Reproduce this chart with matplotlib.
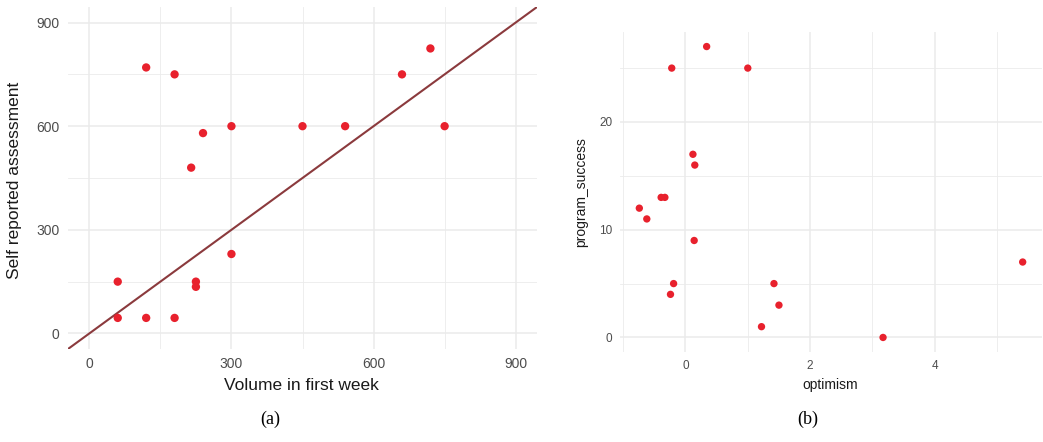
import numpy as np
import matplotlib
matplotlib.use("Agg")
import matplotlib.pyplot as plt

plt.rcParams['font.family'] = ['Liberation Sans', 'DejaVu Sans']

# panel (a): volume vs self reported assessment
volume = [120, 180, 660, 720, 300, 450, 540, 750, 240, 215, 300, 60, 225, 225, 60, 120, 180]
assessment = [770, 750, 750, 825, 600, 600, 600, 600, 580, 480, 230, 150, 150, 135, 45, 45, 45]

# panel (b): optimism vs program_success
optimism = [0.34, -0.22, 1.0, 0.12, 0.15, -0.39, -0.33, -0.74, -0.62, 0.14,
            5.41, -0.19, 1.42, -0.24, 1.50, 1.22, 3.17]
program_success = [27, 25, 25, 17, 16, 13, 13, 12, 11, 9, 7, 5, 5, 4, 3, 1, 0]

a_ticks = [0, 300, 600, 900]
a_minor = [150, 450, 750]
b_xticks = [0, 2, 4]
b_xminor = [-1, 1, 3, 5]
b_yticks = [0, 10, 20]
b_yminor = [5, 15, 25]

point_col = '#E8212D'
line_col = '#8B3A3D'
grid_col = '#EBEBEB'
tick_col = '#4D4D4D'

fig = plt.figure(figsize=(10.43, 4.42), dpi=100)
ax1 = fig.add_axes([68 / 1043, 1 - 349 / 442, 469 / 1043, 342 / 442])
ax2 = fig.add_axes([620 / 1043, 1 - 352 / 442, 422 / 1043, 320 / 442])


def style(ax, xt, xm, yt, ym, fs, pad):
    ax.set_xticks(xt)
    ax.set_xticks(xm, minor=True)
    ax.set_yticks(yt)
    ax.set_yticks(ym, minor=True)
    ax.grid(True, which='major', color=grid_col, lw=1.1)
    ax.grid(True, which='minor', color=grid_col, lw=0.6)
    ax.set_axisbelow(True)
    for s in ax.spines.values():
        s.set_visible(False)
    ax.tick_params(which='both', length=0, labelsize=fs, labelcolor=tick_col, pad=pad)


# (a)
ax1.plot([-45, 945], [-45, 945], color=line_col, lw=1.5, zorder=2)
ax1.scatter(volume, assessment, s=36, color=point_col, edgecolors='none', zorder=3)
ax1.set_xlim(-45, 945)
ax1.set_ylim(-45, 945)
style(ax1, a_ticks, a_minor, a_ticks, a_minor, 10, 6)
ax1.set_xlabel('Volume in first week', fontsize=12.5, color='#1a1a1a', va='center')
ax1.xaxis.set_label_coords(0.498, -0.108)
ax1.set_ylabel('Self reported assessment', fontsize=12.5, color='#1a1a1a', va='center')
ax1.yaxis.set_label_coords(-0.115, 0.494)

# (b)
ax2.scatter(optimism, program_success, s=28, color=point_col, edgecolors='none', zorder=3)
ax2.set_xlim(-1.05, 5.72)
ax2.set_ylim(-1.35, 28.35)
style(ax2, b_xticks, b_xminor, b_yticks, b_yminor, 8.5, 5.5)
ax2.set_xlabel('optimism', fontsize=10, color='#1a1a1a', va='center')
ax2.xaxis.set_label_coords(0.498, -0.103)
ax2.set_ylabel('program_success', fontsize=10, color='#1a1a1a', va='center')
ax2.yaxis.set_label_coords(-0.091, 0.5)

# captions
fig.text(270 / 1043, 1 - 419 / 442, '(a)', family='Liberation Serif', fontsize=13,
         ha='center', va='center')
fig.text(808 / 1043, 1 - 419 / 442, '(b)', family='Liberation Serif', fontsize=13,
         ha='center', va='center')

fig.savefig('out.png', dpi=100)
